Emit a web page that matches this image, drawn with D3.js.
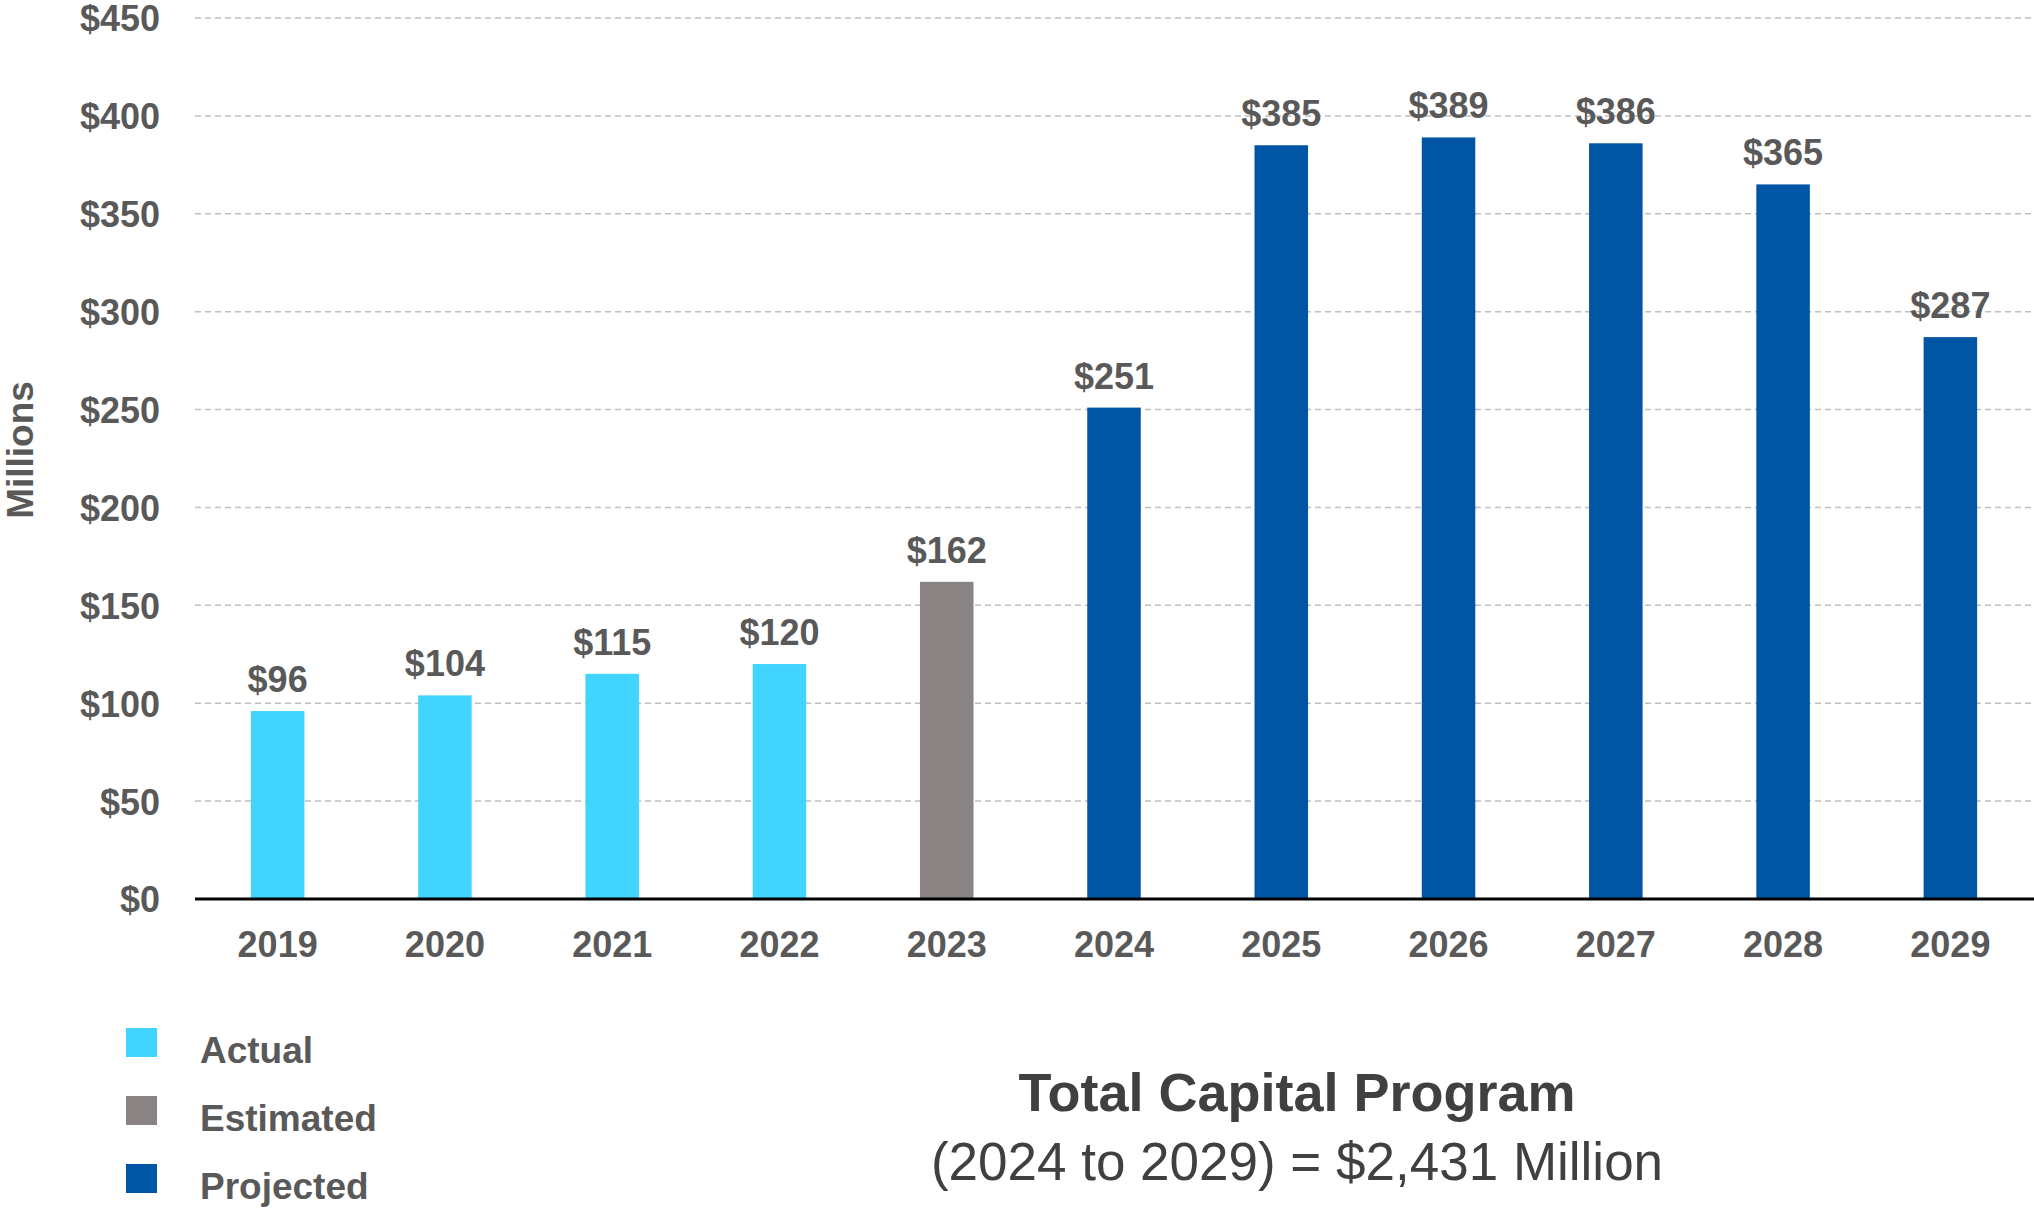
<!DOCTYPE html>
<html>
<head>
<meta charset="utf-8">
<script src="https://cdn.jsdelivr.net/npm/d3@7"></script>
<style>
  body { margin: 0; background: #fff; }
  svg text { font-family: "Liberation Sans", Arial, sans-serif; }
</style>
</head>
<body>
<div id="chart"></div>
<script>
var years = ["2019", "2020", "2021", "2022", "2023", "2024", "2025", "2026", "2027", "2028", "2029"];
var values = [96, 104, 115, 120, 162, 251, 385, 389, 386, 365, 287];
var kinds = ["Actual", "Actual", "Actual", "Actual", "Estimated", "Projected", "Projected", "Projected", "Projected", "Projected", "Projected"];
var legendLabels = ["Actual", "Estimated", "Projected"];
var legendColors = ["#41D4FF", "#898483", "#0055A5"];
var yTicks = [0, 50, 100, 150, 200, 250, 300, 350, 400, 450];

var width = 2034, height = 1211;
var textColor = "#595959";

var svg = d3.select("#chart").append("svg")
    .attr("width", width)
    .attr("height", height);

var x = d3.scaleBand()
    .domain(years)
    .range([194, 2034])
    .paddingInner(0.68)
    .paddingOuter(0.34);

var y = d3.scaleLinear()
    .domain([0, 450])
    .range([899, 18]);

var color = d3.scaleOrdinal()
    .domain(legendLabels)
    .range(legendColors);

// grid lines
svg.append("g")
    .selectAll("line")
    .data(yTicks.slice(1))
    .enter()
    .append("line")
    .attr("x1", 195)
    .attr("x2", width)
    .attr("y1", function (d) { return y(d); })
    .attr("y2", function (d) { return y(d); })
    .attr("stroke", "#BFBFBF")
    .attr("stroke-width", 1.5)
    .attr("stroke-dasharray", "6,4");

// y axis labels
var yAxis = svg.append("g")
    .attr("transform", "translate(160,0)")
    .call(d3.axisLeft(y).tickValues(yTicks).tickSize(0).tickPadding(0)
        .tickFormat(function (d) { return "$" + d; }));
yAxis.select(".domain").remove();
yAxis.selectAll("text")
    .attr("fill", textColor)
    .attr("font-size", 36)
    .attr("font-weight", "bold")
    .attr("dy", "0.36em");

// bars
var data = years.map(function (yr, i) {
    return { year: yr, value: values[i], kind: kinds[i] };
});

svg.append("g")
    .selectAll("rect")
    .data(data)
    .enter()
    .append("rect")
    .attr("x", function (d) { return x(d.year); })
    .attr("width", x.bandwidth())
    .attr("y", function (d) { return y(d.value); })
    .attr("height", function (d) { return y(0) - y(d.value); })
    .attr("fill", function (d) { return color(d.kind); });

// value labels
svg.append("g")
    .selectAll("text")
    .data(data)
    .enter()
    .append("text")
    .attr("x", function (d) { return x(d.year) + x.bandwidth() / 2; })
    .attr("y", function (d) { return y(d.value) - 19; })
    .attr("text-anchor", "middle")
    .attr("fill", textColor)
    .attr("font-size", 36)
    .attr("font-weight", "bold")
    .text(function (d) { return "$" + d.value; });

// x axis
var xAxis = svg.append("g")
    .attr("transform", "translate(0," + y(0) + ")")
    .call(d3.axisBottom(x).tickSize(0).tickPadding(0));
xAxis.select(".domain")
    .attr("d", "M195,0H" + width)
    .attr("stroke", "#000")
    .attr("stroke-width", 3);
xAxis.selectAll("text")
    .attr("fill", textColor)
    .attr("font-size", 36)
    .attr("font-weight", "bold")
    .attr("y", 58)
    .attr("dy", 0);

// y axis title
svg.append("text")
    .attr("transform", "translate(33,450) rotate(-90)")
    .attr("text-anchor", "middle")
    .attr("fill", textColor)
    .attr("font-size", 37)
    .attr("font-weight", "bold")
    .text("Millions");

// legend
var legend = svg.append("g")
    .selectAll("g")
    .data(legendLabels)
    .enter()
    .append("g")
    .attr("transform", function (d, i) { return "translate(126," + (1028 + i * 68) + ")"; });

legend.append("rect")
    .attr("width", 31)
    .attr("height", 29)
    .attr("fill", function (d) { return color(d); });

legend.append("text")
    .attr("x", 74)
    .attr("y", 35)
    .attr("fill", textColor)
    .attr("font-size", 37)
    .attr("font-weight", "bold")
    .text(function (d) { return d; });

// summary
svg.append("text")
    .attr("x", 1297)
    .attr("y", 1111)
    .attr("text-anchor", "middle")
    .attr("fill", "#404040")
    .attr("font-size", 54)
    .attr("font-weight", "bold")
    .text("Total Capital Program");

svg.append("text")
    .attr("x", 1297)
    .attr("y", 1180)
    .attr("text-anchor", "middle")
    .attr("fill", "#404040")
    .attr("font-size", 53)
    .text("(2024 to 2029) = $2,431 Million");
</script>
</body>
</html>
